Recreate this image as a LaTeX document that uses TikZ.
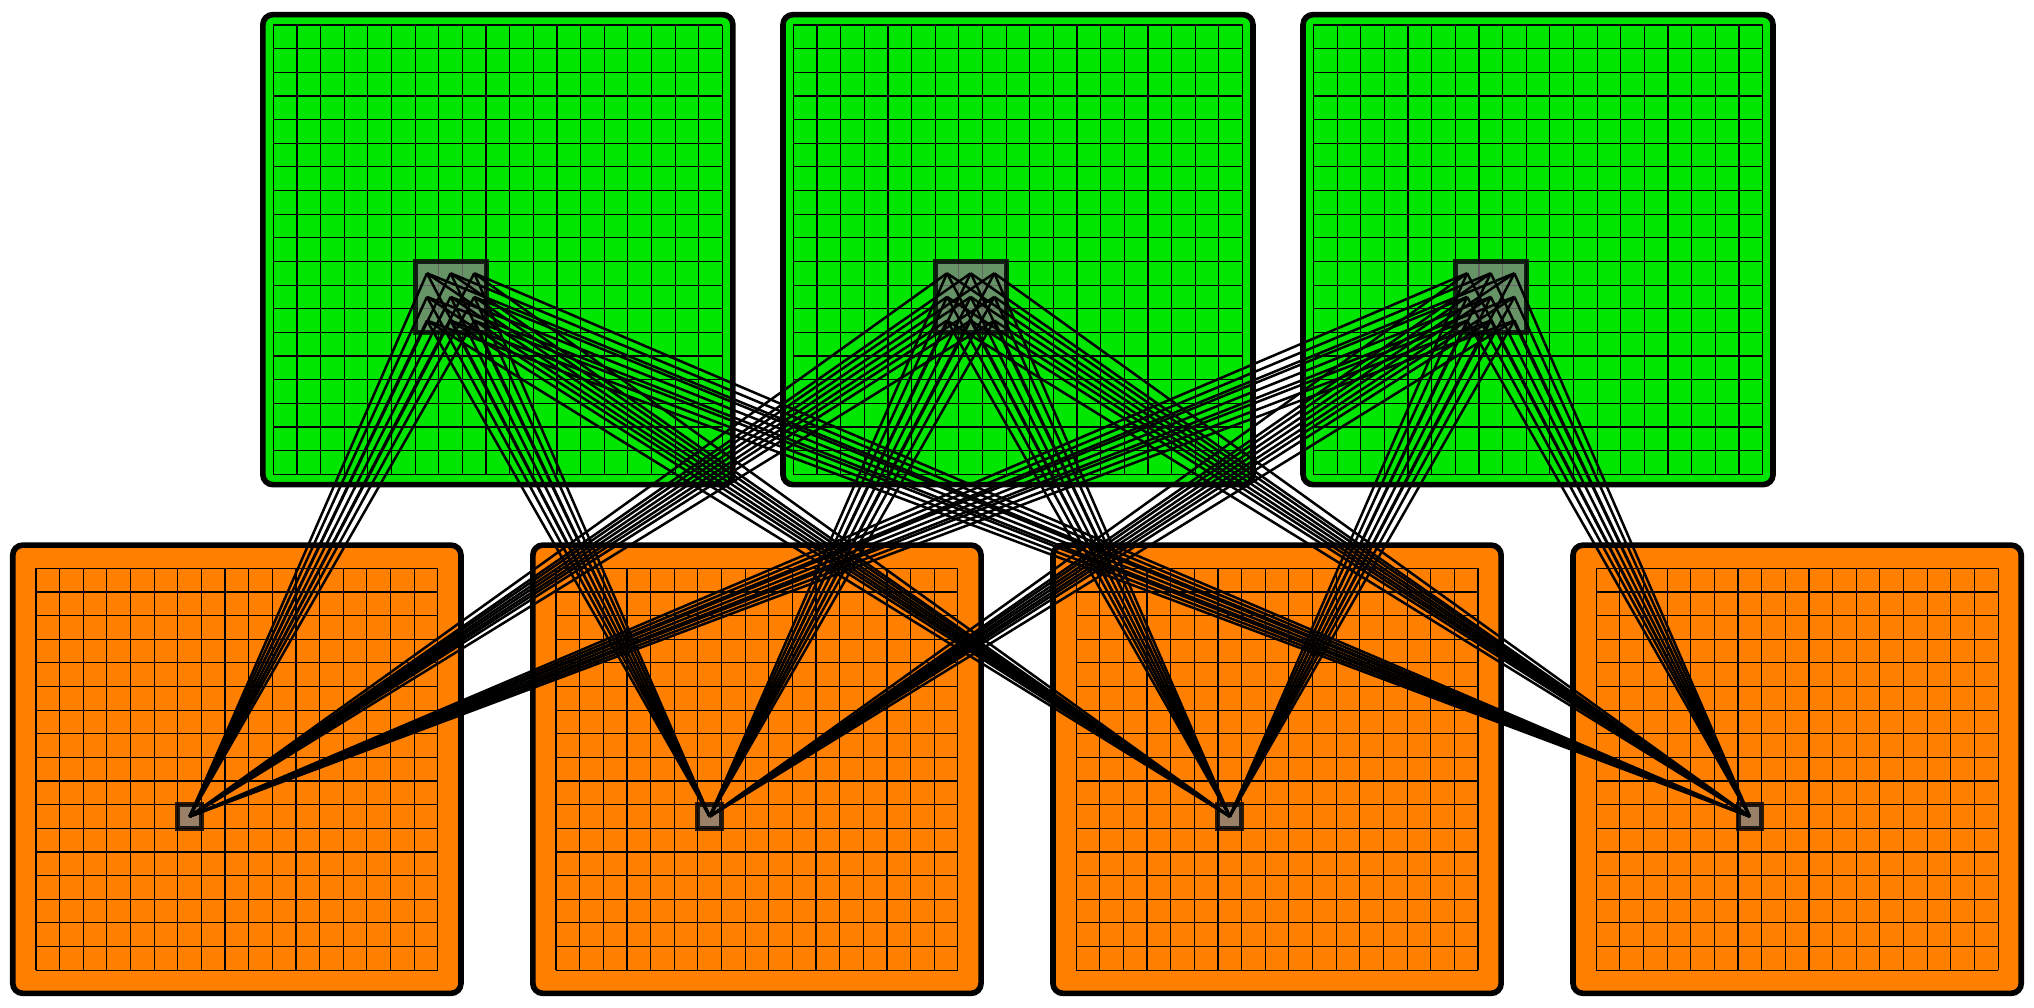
\documentclass[tikz,border=0pt]{standalone}
\usepackage{tikz}

\definecolor{mapgreen}{RGB}{0,230,0}
\definecolor{maporange}{RGB}{255,128,0}

\begin{document}
\begin{tikzpicture}[
    x=5mm, y=5mm,
    inmap/.style={draw, line width=3.4pt, rounded corners=6pt, fill=mapgreen,
                  minimum size=99.4mm, inner sep=0pt},
    outmap/.style={draw, line width=3.4pt, rounded corners=6pt, fill=maporange,
                   minimum size=94.8mm, inner sep=0pt},
    mapgrid/.style={line width=0.7pt, step=5mm},
    patch/.style={draw=black, draw opacity=0.8, fill=gray, fill opacity=0.8,
                  line width=3pt},
    link/.style={line width=1.5pt}
]
\useasboundingbox (0,0) rectangle (86.04,42.6);

% input channels, 19x19 with the 3x3 window
\foreach \g in {0,1,2}{
  \begin{scope}[shift={(11.56+22*\g,22.54)}]
    \node[inmap] (in\g) at (9.5,9.5) {};
    \draw[mapgrid] (0,0) grid (19,19);
    \draw[patch] (6,6) rectangle (9,9);
    \foreach \i in {0,1,2}
      \foreach \j in {0,1,2}
        \coordinate (k\g-\i\j) at (6.5+\i,6.5+\j);
  \end{scope}
}

% output channels, 17x17 with one pixel
\foreach \o in {0,...,3}{
  \begin{scope}[shift={(1.52+22*\o,1.56)}]
    \node[outmap] (out\o) at (8.5,8.5) {};
    \draw[mapgrid] (0,0) grid (17,17);
    \draw[patch] (6,6) rectangle (7,7);
    \coordinate (px\o) at (6.5,6.5);
  \end{scope}
}

% every window cell feeds every output pixel
\foreach \g in {0,1,2}
  \foreach \o in {0,...,3}
    \foreach \i in {0,1,2}
      \foreach \j in {0,1,2}
        \draw[link] (k\g-\i\j) -- (px\o);
\end{tikzpicture}
\end{document}
